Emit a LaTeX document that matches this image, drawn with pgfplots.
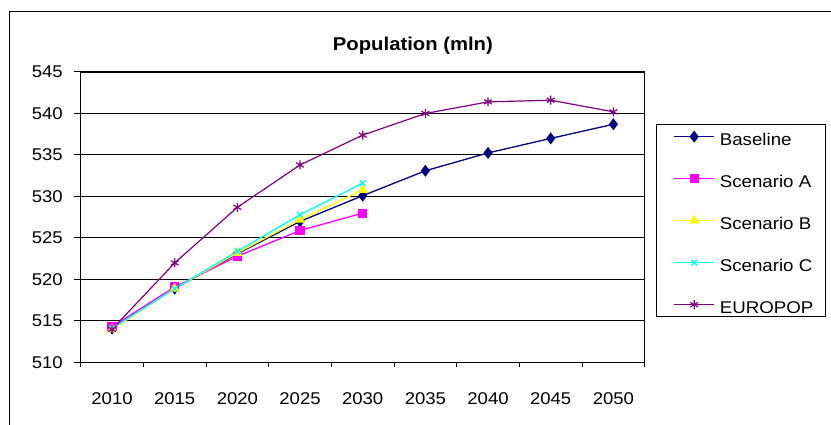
\documentclass[border=0pt]{standalone}
\usepackage{fontspec}
\setmainfont{Liberation Sans}
\newfontfamily\labelfont[FakeStretch=1.09]{Liberation Sans}
\newfontfamily\legendfont[FakeStretch=1.1]{Liberation Sans}
\usepackage{pgfplots}
\pgfplotsset{compat=1.18}

\definecolor{basecol}{RGB}{0,0,128}
\definecolor{scena}{RGB}{255,0,255}
\definecolor{scenb}{RGB}{255,255,0}
\definecolor{scenc}{RGB}{0,255,255}
\definecolor{europop}{RGB}{128,0,128}

\begin{document}
\begin{tikzpicture}[x=1pt,y=1pt]
\useasboundingbox (0,0) rectangle (831,425);
% chart area frame
\draw[line width=1.4pt] (9.5,0) -- (9.5,413.5) -- (831,413.5);
\begin{axis}[
  at={(80.7pt,62.5pt)}, anchor=south west,
  scale only axis, width=564pt, height=290.5pt,
  xmin=2007.5, xmax=2052.5, ymin=510, ymax=545,
  xtick={2010,2015,2020,2025,2030,2035,2040,2045,2050},
  xticklabels={2010,2015,2020,2025,2030,2035,2040,2045,2050},
  major x tick style={draw=none},
  extra x ticks={2007.5,2012.5,2017.5,2022.5,2027.5,2032.5,2037.5,2042.5,2047.5,2052.5},
  extra x tick labels={},
  extra x tick style={major tick length=5pt, grid=none, major x tick style={draw=black, line width=1pt}},
  ytick={510,515,520,525,530,535,540,545},
  yticklabels={510,515,520,525,530,535,540,545},
  tick pos=left,
  tick align=outside,
  major tick length=7pt,
  tick style={line width=1pt, black},
  ymajorgrids,
  grid style={line width=1pt, black},
  axis line style={line width=1.3pt},
  tick label style={font=\labelfont\fontsize{17}{20}\selectfont, inner sep=0pt},
  xticklabel style={anchor=base, yshift=-35pt},
  yticklabel style={anchor=east, xshift=-10.7pt},
  title={\bfseries Population (mln)},
  title style={at={(0.589,1.0527)}, anchor=base, font=\labelfont\fontsize{18.6}{22}\selectfont, inner sep=0pt},
  legend image code/.code={\path (0pt,0pt);
    \draw[mark repeat=2,mark phase=2] plot coordinates {(5pt,0pt) (25pt,0pt) (45pt,0pt)};},
  legend style={at={(1.0201,0.821)}, anchor=north west, draw=black, line width=1pt,
    font=\legendfont\fontsize{17}{20}\selectfont, inner xsep=12pt, inner ysep=3pt, row sep=23.7pt,
    nodes={inner sep=0pt, text height=18.3pt, text depth=0pt},
    legend cell align=left},
  legend style={/tikz/column 1/.style={column sep=5pt}},
]
\addplot[basecol, line width=1.3pt, mark=diamond*, mark size=5pt, mark options={fill=basecol}]
  coordinates {(2010,514.1) (2015,518.9) (2020,523.1) (2025,527.0) (2030,530.1) (2035,533.1) (2040,535.25) (2045,537.0) (2050,538.7)};
\addlegendentry{Baseline}
\addplot[scena, line width=1.3pt, mark=square*, mark size=3.9pt, mark options={fill=scena}]
  coordinates {(2010,514.3) (2015,519.1) (2020,522.8) (2025,525.9) (2030,528.0)};
\addlegendentry{Scenario A}
\addplot[scenb, line width=1.3pt, mark=triangle*, mark size=4.6pt, mark options={fill=scenb}]
  coordinates {(2010,514.0) (2015,518.9) (2020,523.2) (2025,527.2) (2030,530.8)};
\addlegendentry{Scenario B}
\addplot[scenc, line width=1.3pt, mark=x, mark size=4pt]
  coordinates {(2010,514.1) (2015,518.9) (2020,523.4) (2025,527.8) (2030,531.6)};
\addlegendentry{Scenario C}
\addplot[europop, line width=1.2pt, mark=asterisk, mark size=4.5pt]
  coordinates {(2010,514.0) (2015,522.0) (2020,528.7) (2025,533.8) (2030,537.4) (2035,540.0) (2040,541.4) (2045,541.6) (2050,540.2)};
\addlegendentry{EUROPOP}
\end{axis}
\end{tikzpicture}
\end{document}
